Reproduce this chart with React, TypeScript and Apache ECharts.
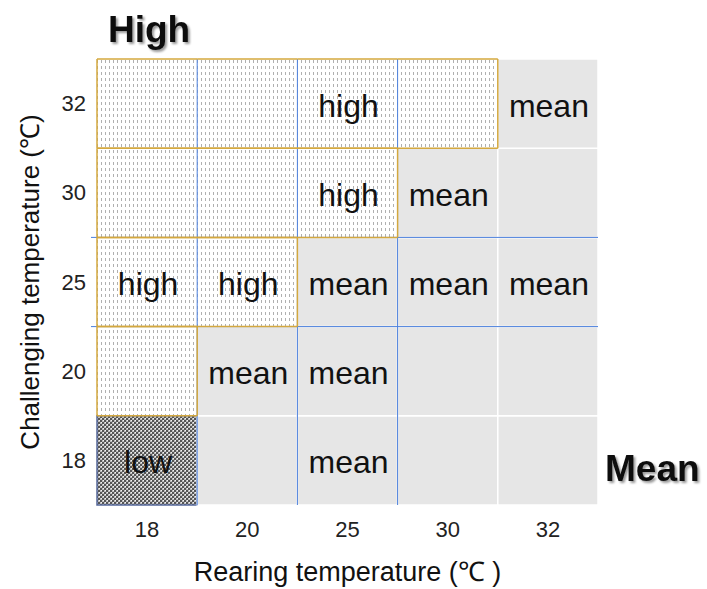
import React, { useEffect, useRef } from "react";
import * as echarts from "echarts";

const rearingTemps = ["18", "20", "25", "30", "32"];
const challengingTemps = ["18", "20", "25", "30", "32"];

// response per challenging temperature (rows, bottom to top) and rearing temperature (columns)
const responseRows: string[][] = [
  ["low", "mean", "mean", "mean", "mean"],
  ["high", "mean", "mean", "mean", "mean"],
  ["high", "high", "mean", "mean", "mean"],
  ["high", "high", "high", "mean", "mean"],
  ["high", "high", "high", "high", "mean"],
];

// visible cell labels
const labelRows: string[][] = [
  ["low", "", "mean", "", ""],
  ["", "mean", "mean", "", ""],
  ["high", "high", "mean", "mean", "mean"],
  ["", "", "high", "mean", ""],
  ["", "", "high", "", "mean"],
];

// blue grid lines between categories
const blueVerticalBetween = [
  ["18", "20"],
  ["20", "25"],
  ["25", "30"],
];
const blueHorizontalBetween = [
  ["20", "25"],
  ["25", "30"],
];

const cornerLabels = ["High", "Mean"];

const FONT = "'Liberation Sans', Arial, sans-serif";

function makeHighPattern(): HTMLCanvasElement {
  const c = document.createElement("canvas");
  c.width = 4;
  c.height = 6;
  const ctx = c.getContext("2d")!;
  ctx.fillStyle = "#ffffff";
  ctx.fillRect(0, 0, 4, 6);
  ctx.fillStyle = "#b0b0b0";
  ctx.fillRect(1, 0, 1, 3);
  return c;
}

function makeLowPattern(): HTMLCanvasElement {
  const c = document.createElement("canvas");
  c.width = 4;
  c.height = 4;
  const ctx = c.getContext("2d")!;
  ctx.fillStyle = "#bdbdbd";
  ctx.fillRect(0, 0, 4, 4);
  ctx.fillStyle = "#555555";
  ctx.fillRect(0, 0, 2, 2);
  ctx.fillRect(2, 2, 2, 2);
  ctx.fillStyle = "#f4f4f4";
  ctx.fillRect(3, 0, 1, 1);
  ctx.fillRect(1, 2, 1, 1);
  return c;
}

export default function App() {
  const ref = useRef<HTMLDivElement>(null);

  useEffect(() => {
    if (!ref.current) return;
    document.body.style.margin = "0";
    const chart = echarts.init(ref.current, null, { renderer: "svg" });

    const highFill = { image: makeHighPattern(), repeat: "repeat" };
    const lowFill = { image: makeLowPattern(), repeat: "repeat" };

    const cellData: any[] = [];
    responseRows.forEach((row, yi) => {
      row.forEach((r, xi) => {
        cellData.push([xi, yi, r === "low" ? 0 : r === "mean" ? 1 : 2]);
      });
    });

    const labelData: any[] = [];
    labelRows.forEach((row, yi) => {
      row.forEach((t, xi) => {
        if (t) labelData.push([xi, yi, t]);
      });
    });

    const cellRect = (api: any, xi: number, yi: number) => {
      const c = api.coord([xi, yi]);
      const s = api.size([1, 1]);
      return { x: c[0] - s[0] / 2, y: c[1] - s[1] / 2, w: s[0], h: s[1] };
    };

    const isHigh = (xi: number, yi: number) =>
      xi >= 0 && xi < rearingTemps.length && yi >= 0 && yi < challengingTemps.length && responseRows[yi][xi] === "high";

    const shadowText = (text: string, left: number, top: number) => ({
      type: "text",
      left,
      top,
      style: {
        text,
        font: `bold 37px ${FONT}`,
        fill: "#111",
        textShadowColor: "rgba(0,0,0,0.4)",
        textShadowOffsetX: 2,
        textShadowOffsetY: 2,
        textShadowBlur: 2,
      },
    });

    const option: any = {
      animation: false,
      grid: { left: 97, right: 109, top: 59, bottom: 84, outerBoundsMode: "none", containLabel: false },
      xAxis: {
        type: "category",
        data: rearingTemps,
        name: "Rearing temperature (℃ )",
        nameLocation: "middle",
        nameGap: 53,
        nameTextStyle: { fontSize: 27, color: "#111", fontFamily: FONT },
        axisLine: { show: false },
        axisTick: { show: false },
        axisLabel: { fontSize: 22, color: "#222", fontFamily: FONT, margin: 13 },
        splitLine: { show: false },
      },
      yAxis: {
        type: "category",
        data: challengingTemps,
        name: "Challenging temperature (℃)",
        nameLocation: "middle",
        nameGap: 54,
        nameTextStyle: { fontSize: 26, color: "#111", fontFamily: FONT },
        axisLine: { show: false },
        axisTick: { show: false },
        axisLabel: { fontSize: 22, color: "#222", fontFamily: FONT, margin: 11 },
        splitLine: { show: false },
      },
      graphic: [shadowText(cornerLabels[0], 108, 11), shadowText(cornerLabels[1], 605, 450)],
      series: [
        {
          type: "custom",
          name: "cells",
          z: 1,
          data: cellData,
          renderItem: (params: any, api: any) => {
            const xi = api.value(0);
            const yi = api.value(1);
            const t = api.value(2);
            const r = cellRect(api, xi, yi);
            let style: any;
            if (t === 1) style = { fill: "#e6e6e6", stroke: "#ffffff", lineWidth: 1.5 };
            else if (t === 2) style = { fill: highFill };
            else style = { fill: lowFill, stroke: "#55689a", lineWidth: 1.5 };
            return { type: "rect", shape: { x: r.x, y: r.y, width: r.w, height: r.h }, style };
          },
        },
        {
          type: "custom",
          name: "blueVertical",
          z: 2,
          data: blueVerticalBetween.map((p) => [rearingTemps.indexOf(p[0]), rearingTemps.indexOf(p[1])]),
          renderItem: (params: any, api: any) => {
            const a = api.coord([api.value(0), 0]);
            const b = api.coord([api.value(1), 0]);
            const x = (a[0] + b[0]) / 2;
            const cs = params.coordSys;
            return {
              type: "line",
              shape: { x1: x, y1: cs.y, x2: x, y2: cs.y + cs.height },
              style: { stroke: "#4a7fdc", lineWidth: 1 },
            };
          },
        },
        {
          type: "custom",
          name: "blueHorizontal",
          z: 2,
          data: blueHorizontalBetween.map((p) => [challengingTemps.indexOf(p[0]), challengingTemps.indexOf(p[1])]),
          renderItem: (params: any, api: any) => {
            const a = api.coord([0, api.value(0)]);
            const b = api.coord([0, api.value(1)]);
            const y = (a[1] + b[1]) / 2;
            const cs = params.coordSys;
            return {
              type: "line",
              shape: { x1: cs.x - 6, y1: y, x2: cs.x + cs.width, y2: y },
              style: { stroke: "#4a7fdc", lineWidth: 1 },
            };
          },
        },
        {
          type: "custom",
          name: "highOutline",
          z: 3,
          data: cellData.filter((d) => d[2] === 2),
          renderItem: (params: any, api: any) => {
            const xi = api.value(0);
            const yi = api.value(1);
            const r = cellRect(api, xi, yi);
            const gold = { stroke: "#d4a83e", lineWidth: 1.5 };
            const children: any[] = [
              { type: "line", shape: { x1: r.x, y1: r.y, x2: r.x + r.w, y2: r.y }, style: gold },
              { type: "line", shape: { x1: r.x, y1: r.y + r.h, x2: r.x + r.w, y2: r.y + r.h }, style: gold },
            ];
            if (!isHigh(xi - 1, yi))
              children.push({ type: "line", shape: { x1: r.x, y1: r.y, x2: r.x, y2: r.y + r.h }, style: gold });
            if (!isHigh(xi + 1, yi))
              children.push({ type: "line", shape: { x1: r.x + r.w, y1: r.y, x2: r.x + r.w, y2: r.y + r.h }, style: gold });
            return { type: "group", children };
          },
        },
        {
          type: "custom",
          name: "labels",
          z: 4,
          data: labelData,
          renderItem: (params: any, api: any) => {
            const c = api.coord([api.value(0), api.value(1)]);
            return {
              type: "text",
              style: {
                text: String(labelRows[api.value(1)][api.value(0)]),
                x: c[0] + 1,
                y: c[1] + 2,
                align: "center",
                verticalAlign: "middle",
                font: `32px ${FONT}`,
                fill: "#111",
              },
            };
          },
        },
      ],
    };

    chart.setOption(option);
    return () => chart.dispose();
  }, []);

  return <div ref={ref} style={{ width: 707, height: 589 }} />;
}
